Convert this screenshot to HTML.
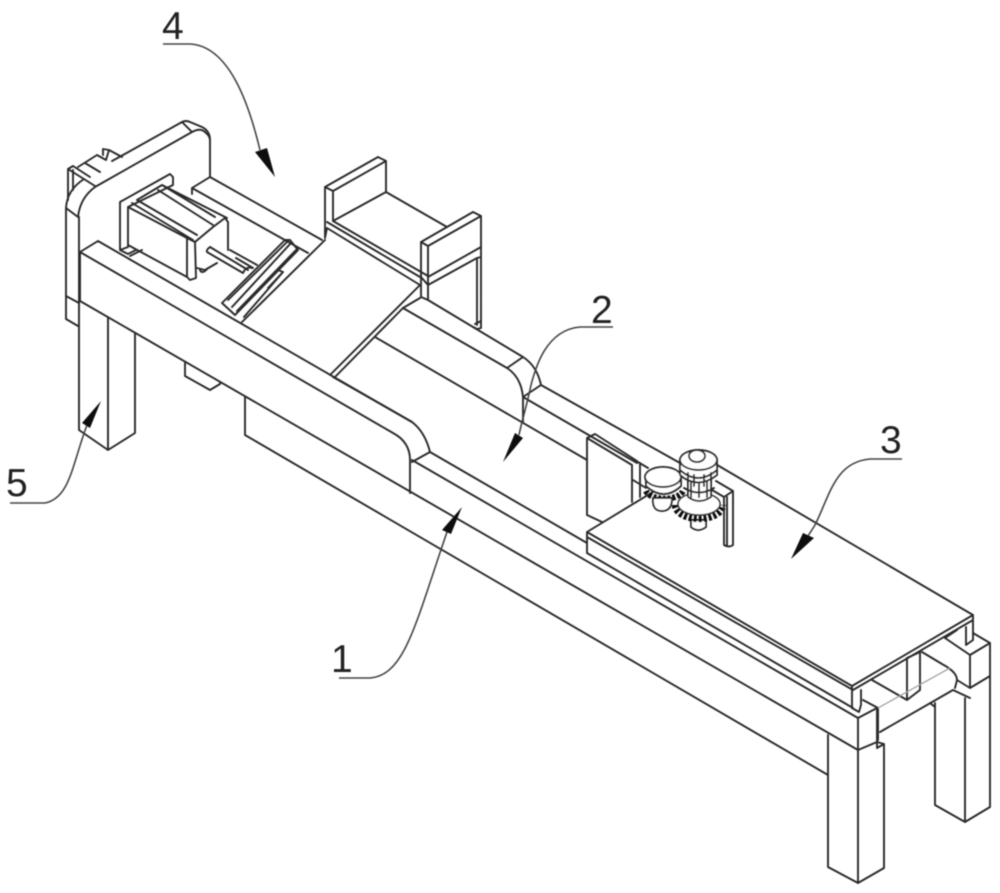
<!DOCTYPE html>
<html><head><meta charset="utf-8"><style>
html,body{margin:0;padding:0;background:#fff}
svg{display:block}
.l{fill:none;stroke:#2a2a2a;stroke-width:1.9;stroke-linejoin:round;stroke-linecap:round}
.w{fill:#fff;stroke:#2a2a2a;stroke-width:1.9;stroke-linejoin:round}
.a{fill:none;stroke:#444;stroke-width:1.6}
text{font-family:"Liberation Sans",sans-serif;font-size:39px;fill:#222}
</style></head><body>
<svg width="1000" height="893" viewBox="0 0 1000 893" xmlns="http://www.w3.org/2000/svg">
<defs><filter id="b" filterUnits="userSpaceOnUse" x="0" y="0" width="1000" height="893"><feGaussianBlur stdDeviation="0.45"/></filter></defs>
<g filter="url(#b)">
<!-- back plate -->
<path class="l" d="M78 326L66 319V208Q67 190 84 179M123 155L182 122Q186 120 190 122L202 127Q210 131 210 140V177M66 296L79 303M66 208L78 217Q80 198 95 187L192 132Q201 127 206 133Q210 136 210 141M182 122L192 132"/>
<path class="l" d="M79 217V430L108 450L135 433V333M108 318V450"/>
<!-- rear block bumps -->
<path class="l" d="M68 169L95 186M68 169V200M73 170V190M68 169L73 166L90 177M78 167L97 155L106 160M85 163L100 172M103 155V149L109 150L122 157M109 150L106 160M123 155L112 161"/>
<!-- back rail -->
<path class="l" d="M210 177L322 240M192 188L308 253M192 188L210 177M192 188V194"/>
<!-- cylinder -->
<path class="l" d="M120 202L170 174L173 177V185L128 207V247L120 250ZM128 207L187 238V277L128 245M120 250L128 254L136 250M130 256L142 250M132 203L193 240M137 200L162 185L227 218M158 190L213 225M162 185L215 217M137 200L197 235M187 238L195 242L213 227L225 218L228 222V250M195 242L196 278L190 280L187 277M197 268L205 270L217 263M200 270Q202 275 208 268"/>
<path class="l" d="M210 247Q206 250 207 252L243 273M210 247L248 270M230 250L257 265M236 258L253 268M243 273Q246 266 252 268"/>
<!-- T bar -->
<path class="l" d="M222 303L285 240L290 240L298 250L235 315L222 303ZM228 300L288 241M232 307L291 243"/>
<path class="l" stroke-width="2.6" d="M235 315L298 250M237 311L296 250"/>
<path class="l" d="M278 270L283 272L244 317M283 272L268 288"/>
<!-- front beam upper -->
<path class="l" d="M80 252L98 241L412 422Q425 432 430 452L412 462M80 252L393 433Q410 442 410 460V493M80 252V301L858 750M430 452L587 543M412 460L858 718"/>
<!-- underside -->
<path class="l" d="M245 397V435L828 775M185 363V376L210 390L220 384V382"/>
<!-- ramp -->
<path class="l" d="M242 322L325 240M330 375L420 285M335 377L403 308M333 377L412 422"/>
<!-- holder -->
<path class="l" d="M325 238V187L333 191V221M325 187L378 157L386 161V192L333 221M333 191L386 161M386 192L447 227M327 222L420 277M327 228L420 285M333 221L428 276M325 238L327 228"/>
<path class="l" d="M421 297V242L473 212L481 216L428 246V300M421 242L428 246M481 216V328M428 277L481 247M428 285L477 258L481 257M477 258V325M473 327L477 329L481 328M475 324L481 321M421 297L428 300M421 277L428 285"/>
<!-- centre rail -->
<path class="l" d="M403 308L420 298M428 300L523 357Q537 366 541 385L523 397M403 308L507 368Q521 377 523 397V422M507 368L523 357M375 337L587 460M541 385L680 463M523 397L637 463"/>
<!-- small block -->
<path class="l" d="M587 515V438L595 434L637 461M587 438L632 465V502M638 462L648 468M640 463V497M587 515L602 522M633 480L646 488"/>
<!-- plate -->
<path class="l" d="M707 459L973 615L852 686L587 532L707 459M587 537L853 690M973 620L853 690M587 532V553L853 708M852 686V708L859 712L861 705V690M973 615V640L966 645V627"/>
<!-- left small motor -->
<path fill="none" stroke="#111" stroke-width="6" stroke-dasharray="3 1.800" d="M646 491A19 10 0 0 0 683 491"/>
<path class="w" d="M653 498Q652 511 662 511Q672 511 672 498Z"/>
<path class="w" d="M646 478V486Q664 502 681 486V478Z"/>
<ellipse cx="663" cy="477" rx="18" ry="10" class="w"/>
<!-- main gear -->
<path class="w" d="M691 520V527Q698 533 706 527V520Z"/>
<path fill="none" stroke="#111" stroke-width="6.5" stroke-dasharray="3 2" d="M675 505A24 14 0 0 0 723 505"/>
<ellipse cx="699" cy="504" rx="21" ry="11" fill="#fff" stroke="#2a2a2a" stroke-width="1.6"/>
<path class="w" d="M688 478H711V497Q699 505 688 497Z"/>
<path class="l" d="M691 478V497M699 478V497M707 478V497M684 488Q699 497 714 488"/>
<path class="w" d="M680 460V475Q698 490 717 475V460Z"/>
<path class="l" d="M680 470Q698 486 717 470M688 473V484M694 475V486M704 475V486M711 473V483"/>
<ellipse cx="698.500" cy="460" rx="18.500" ry="10" class="w"/>
<ellipse cx="697" cy="456" rx="8" ry="6" class="w"/>
<path class="l" d="M716 481L733 491V545Q729 548 724 545V497L712 490M727 497V545M724 497L733 491"/>
<!-- right end -->
<path class="l" d="M945 638L957 630M945 638L970 655L990 643L973 633M970 655V688M990 643V807M970 688L990 676M922 652L942 664Q957 672 957 680L955 688M907 658V700L920 690V652L907 658M872 680L907 700M863 700L878 708V740M880 732L953 690L970 698M957 680L970 688M965 698V822L935 805V703M930 703L935 707M965 822L990 807"/>
<path d="M878 708L950 668" fill="none" stroke="#999" stroke-width="1.2"/>
<!-- legs -->
<path class="l" d="M828 735V867L858 883L884 868V744L877 742V708L858 718V883M858 750L877 742M877 748L884 744M877 742V748"/>
<!-- leaders -->
<path class="a" d="M163 44H190C228 46 248 100 260 150"/>
<path fill="#111" d="M275 177L255 152L267 148Z"/>
<path class="a" d="M613 327H580C545 330 535 370 531 385C527 405 522 420 519 435"/>
<path fill="#111" d="M503 462L515 433L523 438Z"/>
<path class="a" d="M902 459H870C835 462 830 495 815 525L808 536"/>
<path fill="#111" d="M791 559L803 533L814 538Z"/>
<path class="a" d="M339 678H370C405 675 415 625 447 532"/>
<path fill="#111" d="M462 507L442 530L451 534Z"/>
<path class="a" d="M10 503H45C70 498 72 465 87 425"/>
<path fill="#111" d="M101 401L82 423L90 428Z"/>
<text x="162" y="39">4</text>
<text x="591" y="323">2</text>
<text x="880" y="453">3</text>
<text x="331" y="672">1</text>
<text x="6" y="496">5</text>
</g>
</svg>
</body></html>
